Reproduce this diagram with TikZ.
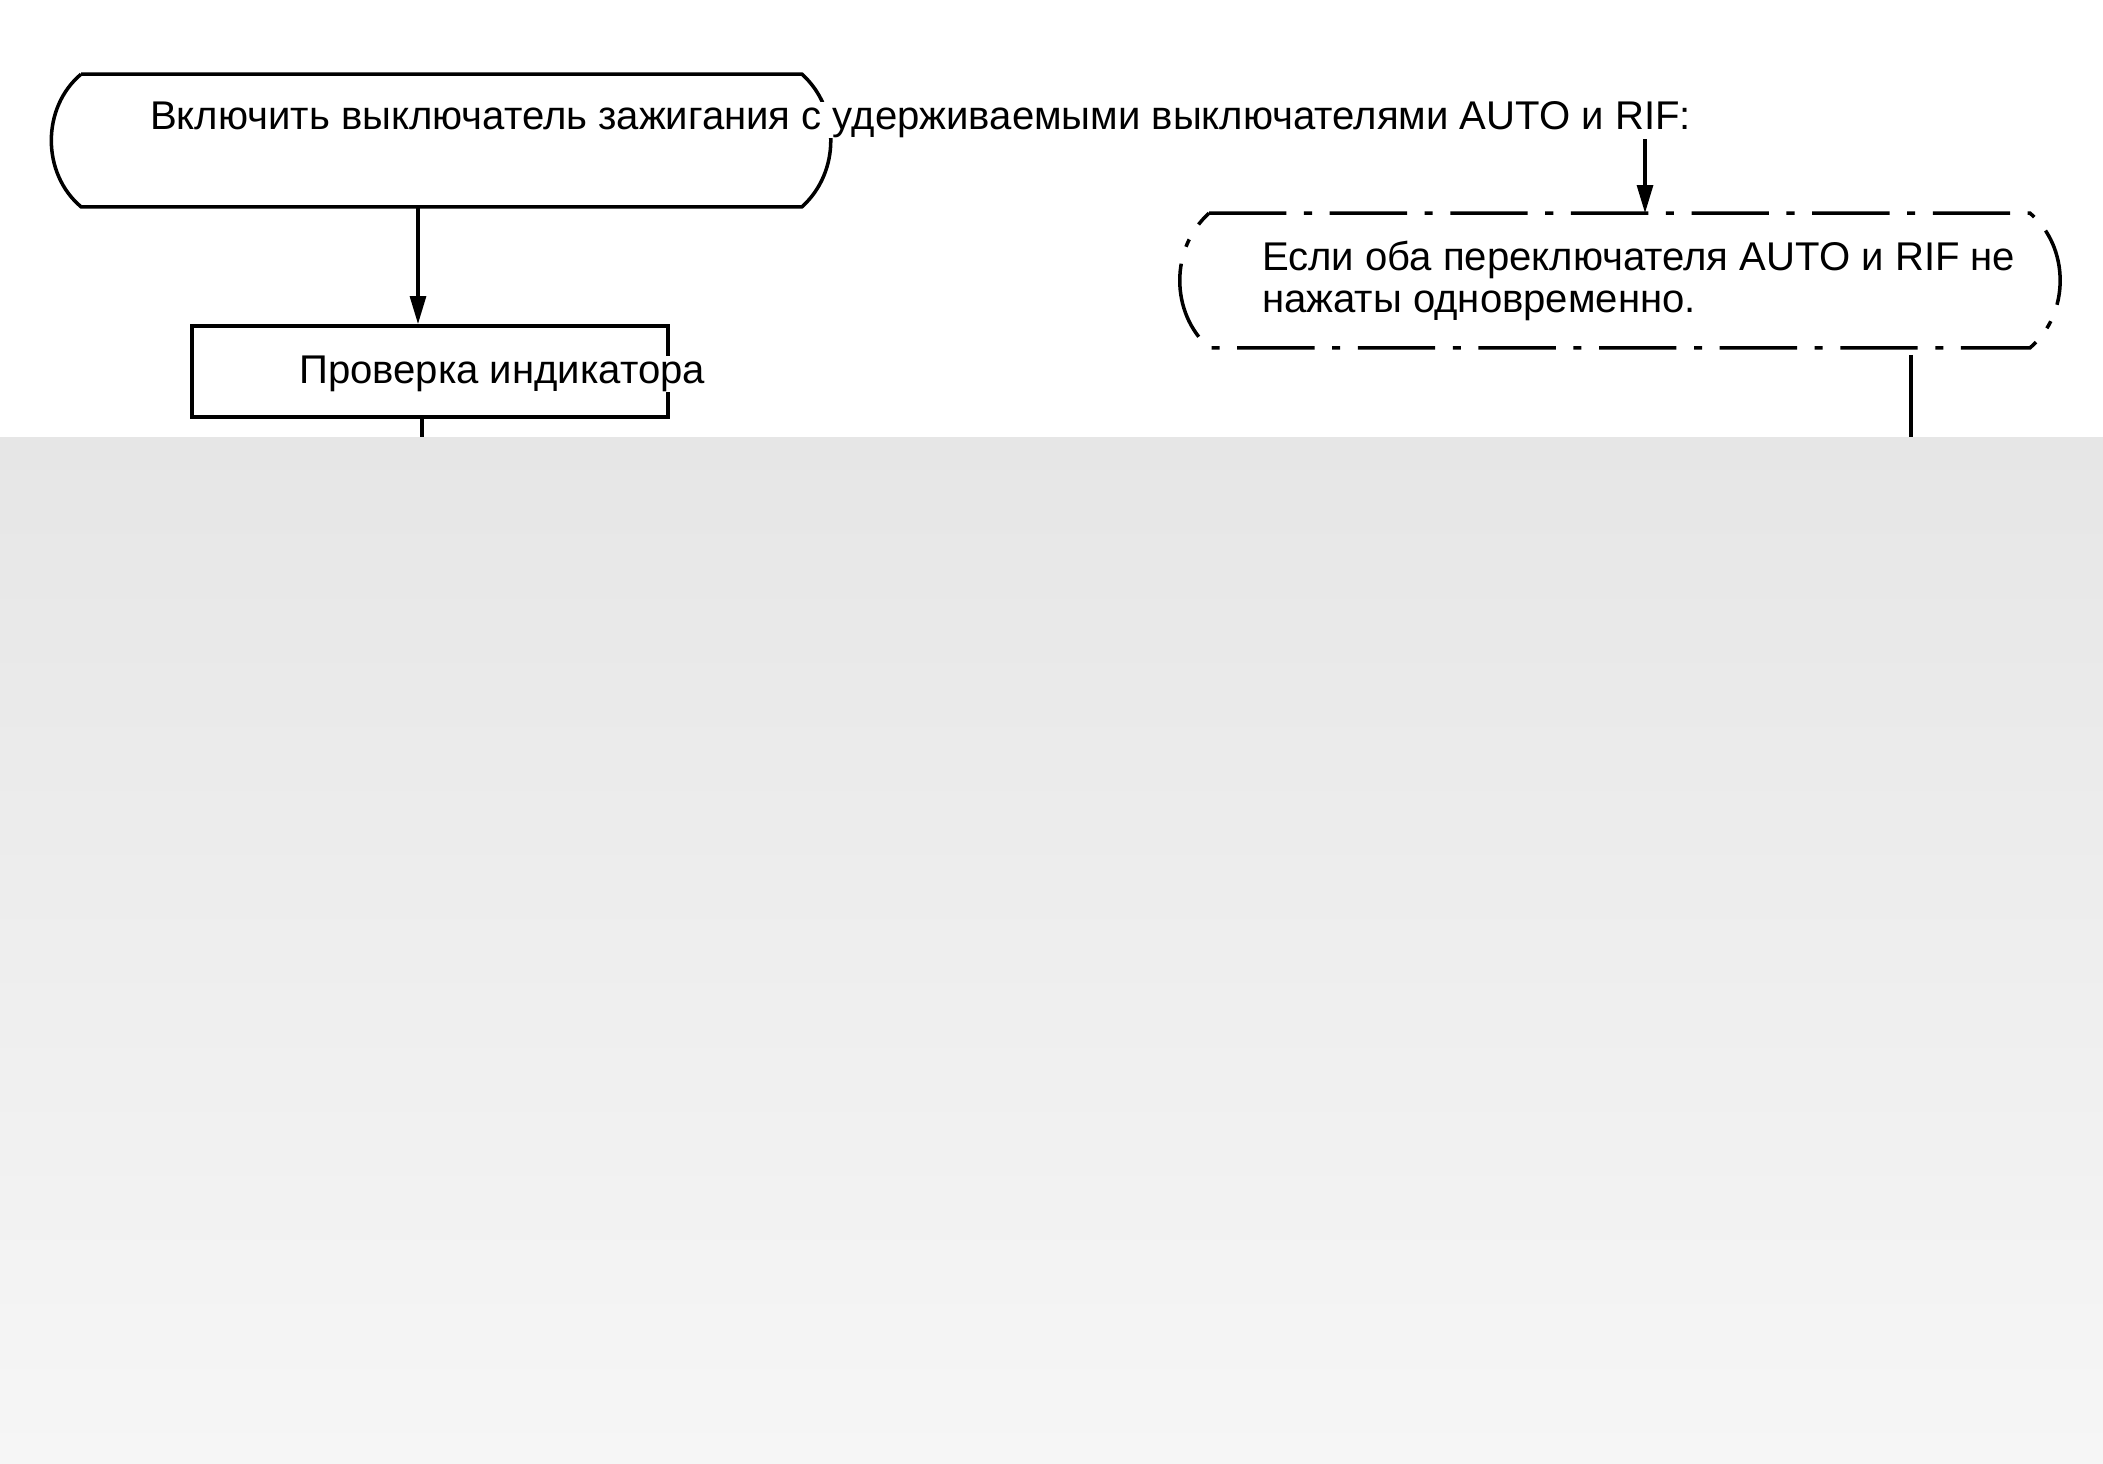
\documentclass[tikz,border=0pt]{standalone}
\usepackage{fontspec}
\setmainfont{Liberation Sans}
\usetikzlibrary{arrows.meta,positioning,calc}
\definecolor{dfgraytop}{RGB}{230,230,230}
\definecolor{dfgraybot}{RGB}{246,246,246}
\tikzstyle{arrow} = [line width=1pt,-{Triangle[length=8pt,width=4.5pt]}]
\tikzstyle{flowline} = [line width=1pt]
\tikzstyle{stepbox} = [rectangle, inner sep=0pt, line width=1pt]
\tikzstyle{steptext} = [anchor=base west, inner xsep=1pt, inner ysep=0pt, fill=white, font=\fontsize{11.4pt}{12.2pt}\selectfont, align=left]
\tikzstyle{dashdot} = [dash pattern=on 22pt off 5pt on 2.3pt off 5pt]

\begin{document}
\begin{tikzpicture}[x=0.01cm, y=-0.01cm]
    \useasboundingbox (0,0) rectangle (2103,1464);
    % Nodes
    \node[stepbox, minimum width=7.17cm, minimum height=1.29cm] (ignition) at (441.5,140.5) {};
    \node[stepbox, draw, minimum width=4.76cm, minimum height=0.91cm] (check) at (430,371.5) {};
    \node[stepbox, minimum width=8.17cm, minimum height=1.31cm] (ifboth) at (1619.5,280.5) {};
    \node[rectangle, inner sep=0pt, minimum width=21.03cm, minimum height=10.26cm, top color=dfgraytop, bottom color=dfgraybot] (cover) at (1051.5,951) {};

    % Outlines
    \draw[flowline] (ignition.north west) -- (ignition.north east) to[bend left=48] (ignition.south east)
        -- (ignition.south west) to[bend left=50] (ignition.north west);
    \draw[flowline, dashdot] (ifboth.north west) -- (ifboth.north east) to[bend left=50] (ifboth.south east)
        -- (ifboth.south west) to[bend left=48] (ifboth.north west);

    % Texts
    \node[steptext] (ignlabel) at (146,130) {Включить выключатель зажигания с удерживаемыми выключателями AUTO и RIF:};
    \node[steptext] (checklabel) at (295,384) {Проверка индикатора};
    \node[steptext, fill=none] (iflabel) at (1258,313) {Если оба переключателя AUTO и RIF не\\нажаты одновременно.};

    % Arrows
    \coordinate (a1) at (418,0);
    \coordinate (a2) at (1645,0);
    \coordinate (a3) at (422,0);
    \coordinate (a4) at (1911,0);
    \draw[arrow] (ignition.south -| a1) -- (check.north -| a1);
    \draw[arrow] (ignlabel.south -| a2) -- (ifboth.north -| a2);
    \draw[flowline] (check.south -| a3) -- (cover.north -| a3);
    \draw[flowline] ([yshift=-2pt]ifboth.south -| a4) -- (cover.north -| a4);
\end{tikzpicture}
\end{document}
